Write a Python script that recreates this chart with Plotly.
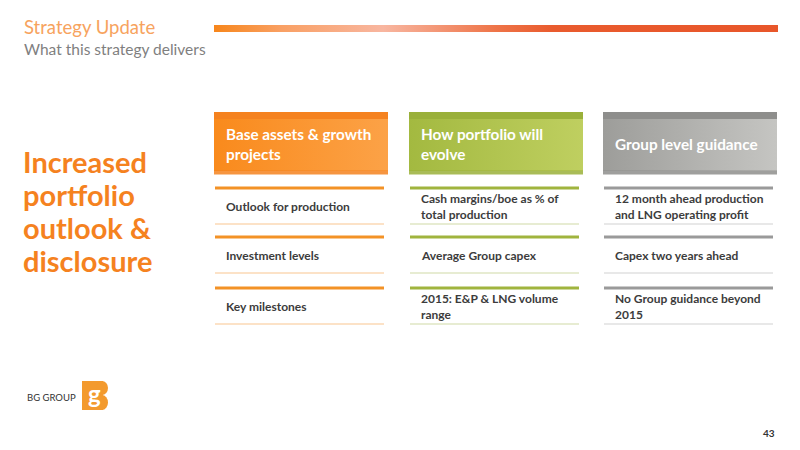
"""Strategy Update slide: what this strategy delivers."""
import plotly.graph_objects as go

# slide text
title = "Strategy Update"
subtitle = "What this strategy delivers"
left_lines = ["Increased", "portfolio", "outlook &", "disclosure"]
headers = ["Base assets & growth<br>projects", "How portfolio will<br>evolve", "Group level guidance"]
rows = [
    ["Outlook for production", "Investment levels", "Key milestones"],
    ["Cash margins/boe as % of<br>total production", "Average Group capex",
     "2015: E&P & LNG volume<br>range"],
    ["12 month ahead production<br>and LNG operating profit", "Capex two years ahead",
     "No Group guidance beyond<br>2015"],
]
page_number = "43"
logo_text = "BG GROUP"

# colours per column: top strip, body gradient left/right, thick rule, thin rule
col_top = ["#F5821F", "#9AB03A", "#8E8E8C"]
col_body = [("#F98A1C", "#FCA247"), ("#A3B940", "#BFCF60"), ("#9D9D9A", "#C5C5C2")]
col_rule = ["#F39226", "#A0B43E", "#9A9A9A"]
col_thin = ["#F9C58F", "#CFDAA6", "#D2D2D2"]

ORANGE = "#F5821F"
FONT = "Lato"

col_x = [214, 409, 603]
box_w = 174
rule_w = 170
row_top = [188, 237, 288]
row_bottom = [224, 273, 324]

fig = go.Figure()
shapes = []
annotations = []


def grad_rect(x0, x1, y0, y1, colorscale):
    fig.add_trace(go.Scatter(
        x=[x0, x1, x1, x0, x0], y=[y0, y0, y1, y1, y0],
        mode="lines", line=dict(width=0), fill="toself",
        fillgradient=dict(type="horizontal", colorscale=colorscale),
        hoverinfo="skip", showlegend=False,
    ))


# top banner bar
grad_rect(214, 778, 25, 32, [[0, "#F7861B"], [0.12, "#F9A064"], [0.3, "#F8B6A0"],
                             [0.5, "#EE7448"], [0.6, "#E95B2E"], [1, "#E8562A"]])

# header boxes
for i, x0 in enumerate(col_x):
    shapes.append(dict(type="rect", x0=x0, x1=x0 + box_w, y0=112, y1=120,
                       fillcolor=col_top[i], line_width=0, layer="below"))
    grad_rect(x0, x0 + box_w, 119, 171, [[0, col_body[i][0]], [1, col_body[i][1]]])
    shapes.append(dict(type="rect", x0=x0, x1=x0 + box_w, y0=170.5, y1=174.5,
                       fillcolor=col_top[i], opacity=0.85, line_width=0, layer="above"))
    annotations.append(dict(x=x0 + 10, y=144, text="<b>%s</b>" % headers[i],
                            xanchor="left", yanchor="middle", align="left", showarrow=False,
                            font=dict(family=FONT, size=15.3, color="white")))
    for j in range(3):
        shapes.append(dict(type="line", x0=x0 + 1, x1=x0 + rule_w, y0=row_top[j], y1=row_top[j],
                           line=dict(color=col_rule[i], width=3)))
        shapes.append(dict(type="line", x0=x0 + 1, x1=x0 + rule_w, y0=row_bottom[j],
                           y1=row_bottom[j], line=dict(color=col_thin[i], width=1.2)))
        annotations.append(dict(x=x0 + 10, y=(row_top[j] + row_bottom[j]) / 2 + 0.5,
                                text="<b>%s</b>" % rows[i][j], xanchor="left",
                                yanchor="middle", align="left", showarrow=False,
                                font=dict(family=FONT, size=12, color="#3C3C3C")))

# title block
annotations.append(dict(x=22, y=27, text=title, xanchor="left", yanchor="middle",
                        showarrow=False, font=dict(family=FONT, size=18.5, color="#F7A35E")))
annotations.append(dict(x=22, y=49, text=subtitle, xanchor="left", yanchor="middle",
                        showarrow=False, font=dict(family=FONT, size=15.5, color="#7F7F7F")))

# left statement
for k, line in enumerate(left_lines):
    annotations.append(dict(x=21, y=161 + k * 33.3, text="<b>%s</b>" % line, xanchor="left",
                            yanchor="middle", showarrow=False,
                            font=dict(family=FONT, size=29, color=ORANGE)))

# logo
annotations.append(dict(x=25, y=397, text=logo_text, xanchor="left", yanchor="middle",
                        showarrow=False, font=dict(family=FONT, size=9.5, color="#333333")))
shapes.append(dict(type="rect", x0=82, x1=103, y0=381, y1=410, fillcolor="#F39A2E",
                   line_width=0))
shapes.append(dict(type="circle", x0=96, x1=108, y0=381, y1=395, fillcolor="#F39A2E",
                   line_width=0))
shapes.append(dict(type="circle", x0=96, x1=108, y0=395, y1=410, fillcolor="#F39A2E",
                   line_width=0))
annotations.append(dict(x=94, y=393, text="<b>g</b>", xanchor="center", yanchor="middle",
                        showarrow=False, font=dict(family=FONT, size=24, color="white")))

# page number
annotations.append(dict(x=777, y=433, text="<b>%s</b>" % page_number, xanchor="right",
                        yanchor="middle", showarrow=False,
                        font=dict(family=FONT, size=10, color="#333333")))

fig.update_layout(
    width=800, height=450,
    margin=dict(l=0, r=0, t=0, b=0),
    paper_bgcolor="white", plot_bgcolor="white",
    xaxis=dict(range=[0, 800], visible=False, fixedrange=True),
    yaxis=dict(range=[450, 0], visible=False, fixedrange=True),
    shapes=shapes, annotations=annotations,
    showlegend=False,
)

# drop the default page margin so slide pixels line up with the window
fig.write_html("out.html", config={"displayModeBar": False},
               post_script="document.body.style.margin = '0';")
